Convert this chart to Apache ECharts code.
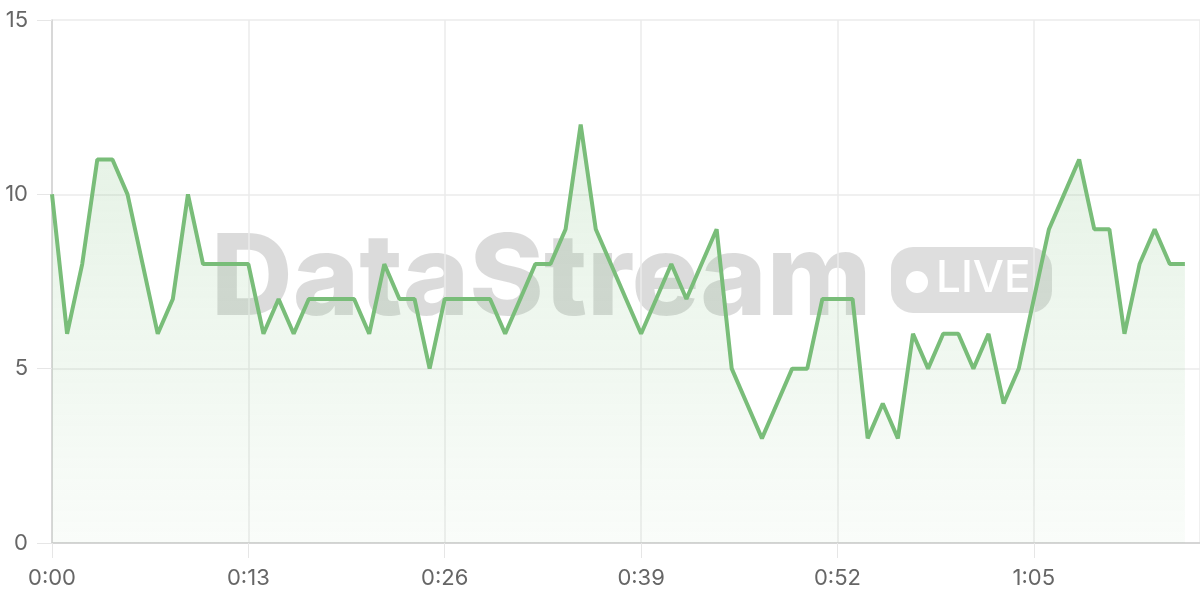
<!DOCTYPE html>
<html>
<head>
<meta charset="utf-8">
<script src="https://cdn.jsdelivr.net/npm/echarts@6/dist/echarts.min.js"></script>
<style>
html,body{margin:0;padding:0;background:#fff;}
#chart{width:1200px;height:600px;}
</style>
</head>
<body>
<div id="chart"></div>
<script>
// seconds since start
var seconds = [];
for (var s = 0; s <= 75; s++) seconds.push(s);
var values = [10,6,8,11,11,10,8,6,7,10,
              8,8,8,8,6,7,6,7,7,7,
              7,6,8,7,7,5,7,7,7,7,
              6,7,8,8,9,12,9,8,7,6,
              7,8,7,8,9,5,4,3,4,5,
              5,7,7,7,3,4,3,6,5,6,
              6,5,6,4,5,7,9,10,11,9,
              9,6,8,9,8,8];
var xTickValues = [0,13,26,39,52,65];
var xTickLabels = ['0:00','0:13','0:26','0:39','0:52','1:05'];
var yTickLabels = ['0','5','10','15'];

var lineColor = '#79bd79';
var chart = echarts.init(document.getElementById('chart'));
chart.setOption({
  animation:false,
  grid:{left:52,right:0,top:20,bottom:57,outerBoundsMode:'none',containLabel:false},
  graphic:[
    {type:'text',left:211,top:225,z:0,silent:true,
     style:{text:'DataStream',font:'800 113px Inter',fill:'rgba(0,0,0,0.14)'}},
    {type:'rect',shape:{x:891,y:247,width:161,height:66,r:22},z:0,silent:true,
     style:{fill:'rgba(0,0,0,0.13)'}},
    {type:'circle',shape:{cx:917,cy:282,r:11},z:1,silent:true,style:{fill:'#fff'}},
    {type:'text',left:936,top:257,z:1,silent:true,
     style:{text:'LIVE',font:'500 44px Inter',fill:'#fff'}}
  ],
  xAxis:{
    type:'value',min:0,max:76,interval:13,
    axisLine:{show:true,lineStyle:{color:'#cccccc',width:1.5}},
    axisTick:{show:true,length:15,lineStyle:{color:'#e6e6e6'}},
    axisLabel:{fontSize:22,color:'#666',margin:24,fontFamily:'Inter',
      formatter:function(v){var i=xTickValues.indexOf(v);return i>=0?xTickLabels[i]:'';}},
    splitLine:{show:true,lineStyle:{color:'#ebebeb',width:1.5}}
  },
  yAxis:{
    type:'value',min:0,max:15,interval:5,
    axisLine:{show:true,lineStyle:{color:'#d0d0d0',width:1.5}},
    axisTick:{show:true,length:15,lineStyle:{color:'#e6e6e6'}},
    axisLabel:{fontSize:22,color:'#666',margin:24,fontFamily:'Inter',
      formatter:function(v){return yTickLabels[v/5];}},
    splitLine:{show:true,lineStyle:{color:'#ebebeb',width:1.5}}
  },
  series:[{
    type:'line',z:3,
    data:seconds.map(function(s,i){return [s,values[i]];}),
    symbol:'none',
    lineStyle:{color:lineColor,width:4},
    areaStyle:{color:new echarts.graphic.LinearGradient(0,0,0,1,[
      {offset:0,color:'rgba(121,189,121,0.28)'},
      {offset:1,color:'rgba(121,189,121,0.06)'}
    ])}
  }]
});
</script>
</body>
</html>
